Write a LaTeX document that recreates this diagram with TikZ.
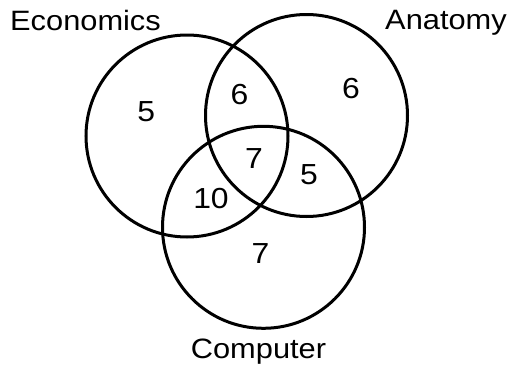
\documentclass[tikz,border=0pt]{standalone}
\usepackage{fontspec}
\setmainfont{Liberation Sans}
\begin{document}
\begin{tikzpicture}[x=1pt,y=-1pt,
  setc/.style={circle, draw=black, line width=3pt, minimum size=202pt, inner sep=0pt},
  lbl/.style={font=\fontsize{28}{32}\selectfont, inner sep=0pt, text=black},
  num/.style={font=\fontsize{29}{32}\selectfont, inner sep=0pt, text=black}]
\useasboundingbox (0,0) rectangle (507,370);
\node[setc] (econ) at (187,136) {};
\node[setc] (anat) at (306.5,115.5) {};
\node[setc] (comp) at (263.5,227.3) {};
\node[lbl, anchor=base] (lecon) at (85.5,30.5) {\scalebox{1.1}[1]{Economics}};
\node[lbl, anchor=base] (lanat) at (446,29) {\scalebox{1.1}[1]{Anatomy}};
\node[lbl, anchor=base] (lcomp) at (258.5,358) {\scalebox{1.1}[1]{Computer}};
\node[num] (n1) at (146.3,111.7) {\scalebox{1.1}[1]{5}};
\node[num] (n2) at (239.5,95) {\scalebox{1.1}[1]{6}};
\node[num] (n3) at (351,88.3) {\scalebox{1.1}[1]{6}};
\node[num] (n4) at (254,158.7) {\scalebox{1.1}[1]{7}};
\node[num] (n5) at (309,174.5) {\scalebox{1.1}[1]{5}};
\node[num] (n6) at (211,199) {\scalebox{1.1}[1]{10}};
\node[num] (n7) at (260.5,253.3) {\scalebox{1.1}[1]{7}};
\end{tikzpicture}
\end{document}
